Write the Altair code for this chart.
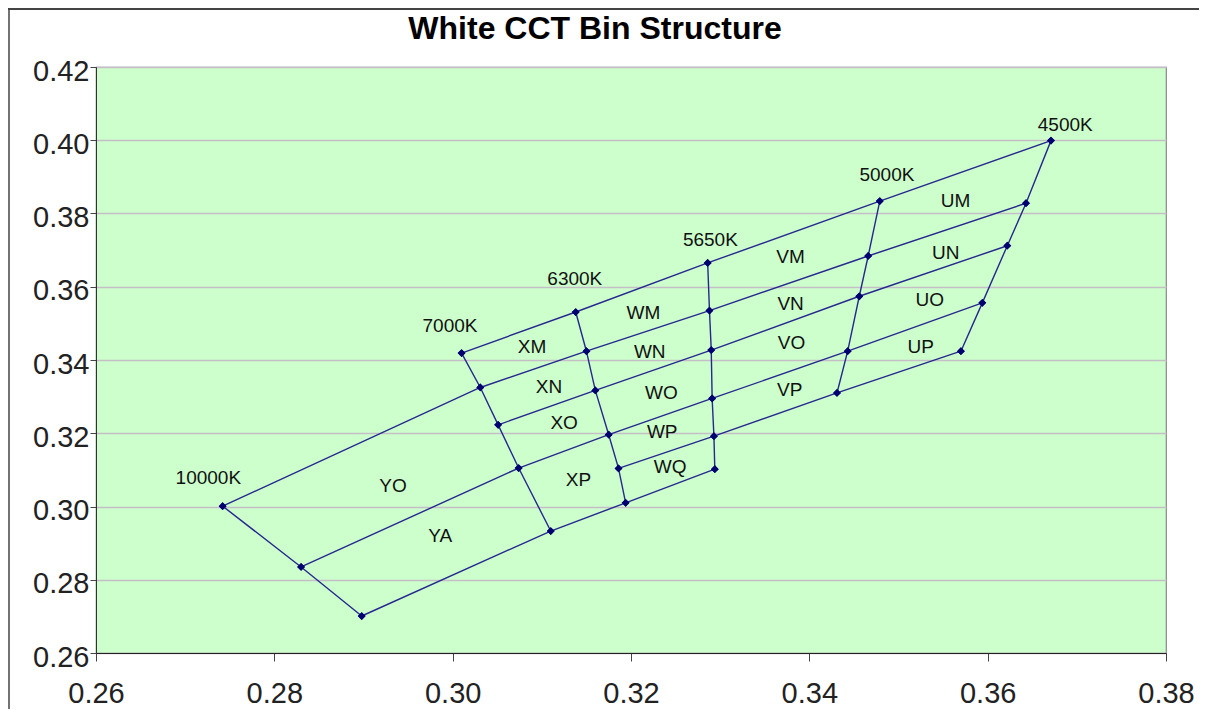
import altair as alt
import pandas as pd

# ---- iso-CCT lines (near vertical), top to bottom ----
cct_4500_x = [0.3671, 0.3643, 0.3622, 0.3594, 0.3570]
cct_4500_y = [0.3999, 0.3828, 0.3712, 0.3556, 0.3424]
cct_5000_x = [0.3479, 0.3466, 0.3456, 0.3443, 0.3431]
cct_5000_y = [0.3834, 0.3684, 0.3574, 0.3424, 0.3310]
cct_5650_x = [0.3286, 0.3288, 0.3290, 0.3291, 0.3293, 0.3294]
cct_5650_y = [0.3665, 0.3535, 0.3427, 0.3295, 0.3192, 0.3102]
cct_6300_x = [0.3138, 0.3150, 0.3160, 0.3175, 0.3186, 0.3194]
cct_6300_y = [0.3531, 0.3424, 0.3317, 0.3196, 0.3104, 0.3010]
cct_7000_x = [0.3010, 0.3031, 0.3051, 0.3074, 0.3110]
cct_7000_y = [0.3419, 0.3325, 0.3223, 0.3105, 0.2933]
cct_10000_x = [0.2742, 0.2830, 0.2898]
cct_10000_y = [0.3001, 0.2835, 0.2701]

# ---- row boundaries (left to right) ----
row_top_x = [0.3010, 0.3138, 0.3286, 0.3479, 0.3671]
row_top_y = [0.3419, 0.3531, 0.3665, 0.3834, 0.3999]
row_mn_x = [0.2742, 0.3031, 0.3150, 0.3288, 0.3466, 0.3643]
row_mn_y = [0.3001, 0.3325, 0.3424, 0.3535, 0.3684, 0.3828]
row_no_x = [0.3051, 0.3160, 0.3290, 0.3456, 0.3622]
row_no_y = [0.3223, 0.3317, 0.3427, 0.3574, 0.3712]
row_op_x = [0.2830, 0.3074, 0.3175, 0.3291, 0.3443, 0.3594]
row_op_y = [0.2835, 0.3105, 0.3196, 0.3295, 0.3424, 0.3556]
row_pq_x = [0.3186, 0.3293, 0.3431, 0.3570]
row_pq_y = [0.3104, 0.3192, 0.3310, 0.3424]
row_bot_x = [0.2898, 0.3110, 0.3194, 0.3294]
row_bot_y = [0.2701, 0.2933, 0.3010, 0.3102]

# ---- labels ----
cct_labels = ["10000K", "7000K", "6300K", "5650K", "5000K", "4500K"]
cct_label_x = [0.2726, 0.2997, 0.3137, 0.3289, 0.3487, 0.3687]
cct_label_y = [0.3077, 0.3492, 0.3620, 0.3729, 0.3906, 0.4043]

bin_labels = ["XM", "XN", "XO", "XP", "WM", "WN", "WO", "WP", "WQ",
              "VM", "VN", "VO", "VP", "UM", "UN", "UO", "UP", "YO", "YA"]
bin_label_x = [0.3089, 0.3108, 0.3125, 0.3141, 0.3214, 0.3221, 0.3234, 0.3235, 0.3244,
               0.3379, 0.3379, 0.3380, 0.3378, 0.3564, 0.3553, 0.3535, 0.3525, 0.2933, 0.2986]
bin_label_y = [0.3435, 0.3326, 0.3228, 0.3072, 0.3529, 0.3422, 0.3310, 0.3204, 0.3108,
               0.3681, 0.3554, 0.3447, 0.3317, 0.3835, 0.3693, 0.3563, 0.3435, 0.3056, 0.2920]

tick_vals_x = [0.26, 0.28, 0.30, 0.32, 0.34, 0.36, 0.38]
tick_vals_y = [0.26, 0.28, 0.30, 0.32, 0.34, 0.36, 0.38, 0.40, 0.42]

polylines = {
    "c4500": (cct_4500_x, cct_4500_y), "c5000": (cct_5000_x, cct_5000_y),
    "c5650": (cct_5650_x, cct_5650_y), "c6300": (cct_6300_x, cct_6300_y),
    "c7000": (cct_7000_x, cct_7000_y), "c10000": (cct_10000_x, cct_10000_y),
    "rtop": (row_top_x, row_top_y), "rmn": (row_mn_x, row_mn_y),
    "rno": (row_no_x, row_no_y), "rop": (row_op_x, row_op_y),
    "rpq": (row_pq_x, row_pq_y), "rbot": (row_bot_x, row_bot_y),
}
rows = []
for name, (xs, ys) in polylines.items():
    for i, (a, b) in enumerate(zip(xs, ys)):
        rows.append({"line": name, "order": i, "x": a, "y": b})
lines_df = pd.DataFrame(rows)

labels_df = pd.DataFrame({
    "text": cct_labels + bin_labels,
    "x": cct_label_x + bin_label_x,
    "y": cct_label_y + bin_label_y,
})

FONT = "Liberation Sans"

xenc = alt.X("x:Q", scale=alt.Scale(domain=[0.26, 0.38], nice=False, zero=False),
             axis=alt.Axis(values=tick_vals_x, format=".2f", title=None, grid=False,
                           tickSize=8, tickColor="#444", domainColor="#222",
                           labelFontSize=29, labelFont=FONT, labelColor="#222",
                           labelPadding=18, labelFlush=False))
yenc = alt.Y("y:Q", scale=alt.Scale(domain=[0.26, 0.42], nice=False, zero=False),
             axis=alt.Axis(values=tick_vals_y, format=".2f", title=None, grid=True,
                           gridColor="#c6bec6", gridWidth=1.5,
                           tickSize=6, tickColor="#444", domainColor="#333",
                           labelFontSize=29, labelFont=FONT, labelColor="#222",
                           labelPadding=1, labelOffset=4, labelFlush=False))

lines = alt.Chart(lines_df).mark_line(color="#27278f", strokeWidth=1.4).encode(
    x=xenc, y=yenc, detail="line:N", order="order:Q")

points = alt.Chart(lines_df).mark_point(shape="diamond", filled=True, size=60,
                                        color="#000070", opacity=1).encode(
    x="x:Q", y="y:Q")

texts = alt.Chart(labels_df).mark_text(font=FONT, fontSize=19, color="#111").encode(
    x="x:Q", y="y:Q", text="text:N")

frame_df = pd.DataFrame({"k": [0]})
border_top = alt.Chart(frame_df).mark_rule(color="#444", strokeWidth=2).encode(
    x=alt.value(-88), x2=alt.value(1103), y=alt.value(-58))
border_left = alt.Chart(frame_df).mark_rule(color="#444", strokeWidth=1.5).encode(
    x=alt.value(-87), y=alt.value(-58), y2=alt.value(700))

chart = alt.layer(border_top, border_left, lines, points, texts).properties(
    width=1070, height=586,
    title=alt.TitleParams("White CCT Bin Structure", fontSize=32, fontWeight="bold",
                          font=FONT, color="#000", anchor="middle", dx=-36, offset=-38),
    autosize=alt.AutoSizeParams(type="none"),
    padding={"left": 88, "top": 59, "right": 33, "bottom": 56},
).configure_view(fill="#ccffcc", stroke="#888", strokeWidth=1.2)

chart.save("out.html", embed_options={"renderer": "svg", "actions": False})
